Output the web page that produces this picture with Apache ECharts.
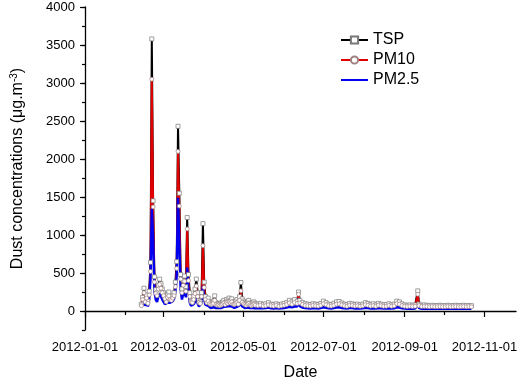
<!DOCTYPE html>
<html><head><meta charset="utf-8">
<script src="https://cdn.jsdelivr.net/npm/echarts@6/dist/echarts.min.js"></script>
<style>html,body{margin:0;padding:0;background:#fff}#c{width:526px;height:380px}</style>
</head><body><div id="c"></div>
<script>
const dates = [
"2012-02-13","2012-02-14","2012-02-15","2012-02-16","2012-02-17","2012-02-18","2012-02-19","2012-02-20","2012-02-21","2012-02-22",
"2012-02-23","2012-02-24","2012-02-25","2012-02-26","2012-02-27","2012-02-28","2012-02-29","2012-03-01","2012-03-02","2012-03-03",
"2012-03-04","2012-03-05","2012-03-06","2012-03-07","2012-03-08","2012-03-09","2012-03-10","2012-03-11","2012-03-12","2012-03-13",
"2012-03-14","2012-03-15","2012-03-16","2012-03-17","2012-03-18","2012-03-19","2012-03-20","2012-03-21","2012-03-22","2012-03-23",
"2012-03-24","2012-03-25","2012-03-26","2012-03-27","2012-03-28","2012-03-29","2012-03-30","2012-03-31","2012-04-01","2012-04-02",
"2012-04-03","2012-04-04","2012-04-05","2012-04-06","2012-04-07","2012-04-08","2012-04-09","2012-04-10","2012-04-11","2012-04-12",
"2012-04-13","2012-04-14","2012-04-15","2012-04-16","2012-04-17","2012-04-18","2012-04-19","2012-04-20","2012-04-21","2012-04-22",
"2012-04-23","2012-04-24","2012-04-25","2012-04-26","2012-04-27","2012-04-28","2012-04-29","2012-04-30","2012-05-01","2012-05-02",
"2012-05-03","2012-05-04","2012-05-05","2012-05-06","2012-05-07","2012-05-08","2012-05-09","2012-05-10",
"2012-05-12","2012-05-14","2012-05-16","2012-05-18","2012-05-20","2012-05-22","2012-05-24","2012-05-26","2012-05-28","2012-05-30",
"2012-06-01","2012-06-03","2012-06-05","2012-06-07","2012-06-09","2012-06-11","2012-06-12","2012-06-13","2012-06-15","2012-06-17",
"2012-06-19","2012-06-21","2012-06-23","2012-06-25","2012-06-27","2012-06-29","2012-07-01","2012-07-03","2012-07-05","2012-07-07",
"2012-07-09","2012-07-11","2012-07-13","2012-07-15","2012-07-17","2012-07-19","2012-07-21","2012-07-23","2012-07-25","2012-07-27",
"2012-07-29","2012-07-31","2012-08-02","2012-08-04","2012-08-06","2012-08-08","2012-08-10","2012-08-12","2012-08-14","2012-08-16",
"2012-08-18","2012-08-20","2012-08-22","2012-08-24","2012-08-26","2012-08-28","2012-08-30","2012-09-01","2012-09-03","2012-09-05",
"2012-09-07","2012-09-09","2012-09-11","2012-09-12","2012-09-14","2012-09-16","2012-09-18","2012-09-20","2012-09-22","2012-09-24",
"2012-09-26","2012-09-28","2012-09-30","2012-10-02","2012-10-04","2012-10-06","2012-10-08","2012-10-10","2012-10-12","2012-10-14",
"2012-10-16","2012-10-18","2012-10-20","2012-10-22"
];
const tsp = [
90,180,300,150,210,130,260,640,3580,1450,
450,280,240,340,420,360,290,240,190,150,
220,250,190,170,200,240,380,650,2430,1550,
480,290,400,460,320,1230,480,240,150,140,
190,290,420,240,140,120,240,1150,380,190,
140,170,120,105,110,130,200,110,95,100,
90,105,120,140,110,150,130,170,140,160,
120,110,130,150,120,190,375,160,130,110,
100,120,140,105,95,110,120,100,
90,100,85,95,110,90,85,95,80,90,
100,110,140,120,150,130,250,140,110,95,
90,85,95,90,85,100,130,110,90,85,
100,120,125,105,90,85,100,95,85,90,
80,90,110,100,85,95,80,100,90,80,
85,95,80,90,130,120,95,80,75,80,
75,80,265,90,75,80,75,70,75,70,
72,75,70,72,75,70,72,75,70,72,
75,70,72,70
];
const pm10 = [
70,150,240,120,170,100,210,520,3050,1370,
380,230,200,290,350,300,240,200,160,120,
180,200,150,140,170,200,320,560,2100,1380,
420,240,340,390,260,1080,400,190,120,110,
150,230,330,190,110,100,190,860,310,150,
110,130,95,85,90,100,140,85,75,80,
70,80,90,105,85,110,100,120,105,120,
90,85,95,110,90,140,265,115,95,85,
75,90,100,80,70,80,90,75,
70,75,65,70,80,68,65,72,62,68,
75,85,105,90,110,100,220,105,85,72,
68,65,72,68,65,75,95,82,68,65,
75,90,92,80,68,64,75,72,65,68,
62,68,82,75,65,70,62,75,68,62,
64,72,62,68,95,90,70,62,58,62,
58,62,220,70,58,60,58,55,58,55,
56,58,55,56,58,55,56,58,55,56,
58,55,56,55
];
const pm25 = [
50,100,130,70,110,60,160,420,1350,950,
260,150,120,190,230,190,150,120,90,70,
110,130,110,100,130,160,260,460,1490,880,
290,150,230,270,180,570,270,110,70,60,
90,120,175,100,60,55,110,330,150,80,
60,70,50,40,45,50,65,40,35,40,
35,40,45,55,45,60,50,65,55,60,
45,40,50,55,45,75,130,60,50,40,
35,45,55,40,35,40,45,35,
35,40,35,38,45,35,33,38,32,35,
40,45,55,50,60,60,170,65,45,38,
35,33,38,35,33,40,50,42,35,33,
40,45,48,40,35,33,40,38,33,35,
32,35,42,40,33,36,32,40,35,32,
33,37,32,35,48,45,36,32,30,32,
30,32,90,38,30,30,30,28,30,28,
29,30,28,29,30,28,29,30,28,29,
30,28,29,28
];
const xLabelDates = ["2012-01-01","2012-03-01","2012-05-01","2012-07-01","2012-09-01","2012-11-01"];
const xMinorDates = ["2012-02-01","2012-04-01","2012-06-01","2012-08-01","2012-10-01"];
const yLabels = [0,500,1000,1500,2000,2500,3000,3500,4000];

function ts(s){const p=s.split('-').map(Number);return new Date(p[0],p[1]-1,p[2]).getTime();}
function fmt(v){const d=new Date(v);const m=d.getMonth()+1,dd=d.getDate();return d.getFullYear()+'-'+(m<10?'0':'')+m+'-'+(dd<10?'0':'')+dd;}
const X=dates.map(ts);
const pair=a=>a.map((v,i)=>[X[i],v]);
const xmin=ts("2012-01-01"), xmax=ts("2012-11-25");
const font='Arial, sans-serif';
const chart=echarts.init(document.getElementById('c'),null,{renderer:'canvas'});
chart.setOption({
  animation:false,
  grid:{left:85,right:10,top:7,bottom:50,outerBoundsMode:'none',containLabel:false},
  legend:{orient:'vertical',left:335,top:27,itemGap:4,itemWidth:27,itemHeight:9,
    textStyle:{fontFamily:font,fontSize:16,color:'#000'},
    data:['TSP','PM10',{name:'PM2.5',itemStyle:{opacity:0}}]},
  xAxis:[{type:'value',min:xmin,max:xmax,
    name:'Date',nameLocation:'middle',nameGap:35,nameTextStyle:{fontFamily:font,fontSize:16,color:'#000'},
    axisLine:{lineStyle:{color:'#000',width:1.3}},
    axisTick:{customValues:xLabelDates.map(ts),length:6,lineStyle:{color:'#000',width:1.2}},
    axisLabel:{customValues:xLabelDates.map(ts),formatter:v=>fmt(v),fontFamily:font,fontSize:13,color:'#000',margin:11},
    splitLine:{show:false}},
   {type:'value',min:xmin,max:xmax,position:'bottom',
    axisLine:{show:false},
    axisTick:{customValues:xMinorDates.map(ts),length:4,lineStyle:{color:'#000',width:1.2}},
    axisLabel:{show:false},splitLine:{show:false}}],
  yAxis:[{type:'value',min:-250,max:4000,
    name:'Dust concentrations (μg.m{sup|-3})',nameLocation:'middle',nameGap:58,nameRotate:90,
    nameTextStyle:{fontFamily:font,fontSize:16,color:'#000',rich:{sup:{fontSize:10,verticalAlign:'top',fontFamily:font,padding:[0,0,8,0]}}},
    axisLine:{show:true,lineStyle:{color:'#000',width:1.3}},
    axisTick:{show:true,customValues:yLabels,length:5,lineStyle:{color:'#000',width:1.2}},
    axisLabel:{customValues:yLabels,formatter:v=>String(v),fontFamily:font,fontSize:13,color:'#000',margin:10},
    splitLine:{show:false}},
   {type:'value',min:-250,max:4000,interval:250,position:'left',
    axisLine:{show:false},axisTick:{show:true,length:3,lineStyle:{color:'#000',width:1.2}},
    axisLabel:{show:false},splitLine:{show:false}}],
  series:[
    {name:'TSP',type:'line',data:pair(tsp),symbol:'rect',symbolSize:4,showAllSymbol:true,
     lineStyle:{color:'#000',width:2},itemStyle:{color:'#fff',borderColor:'#777',borderWidth:0.7},color:'#000'},
    {name:'PM10',type:'line',data:pair(pm10),symbol:'circle',symbolSize:4,showAllSymbol:true,
     lineStyle:{color:'#e00000',width:2},itemStyle:{color:'#fff',borderColor:'#a08080',borderWidth:0.7},color:'#e00000'},
    {name:'PM2.5',type:'line',data:pair(pm25),symbol:'circle',symbolSize:0,showSymbol:false,
     lineStyle:{color:'#0000ee',width:2.5},itemStyle:{color:'#0000ee'},color:'#0000ee'}
  ]
});
</script></body></html>
